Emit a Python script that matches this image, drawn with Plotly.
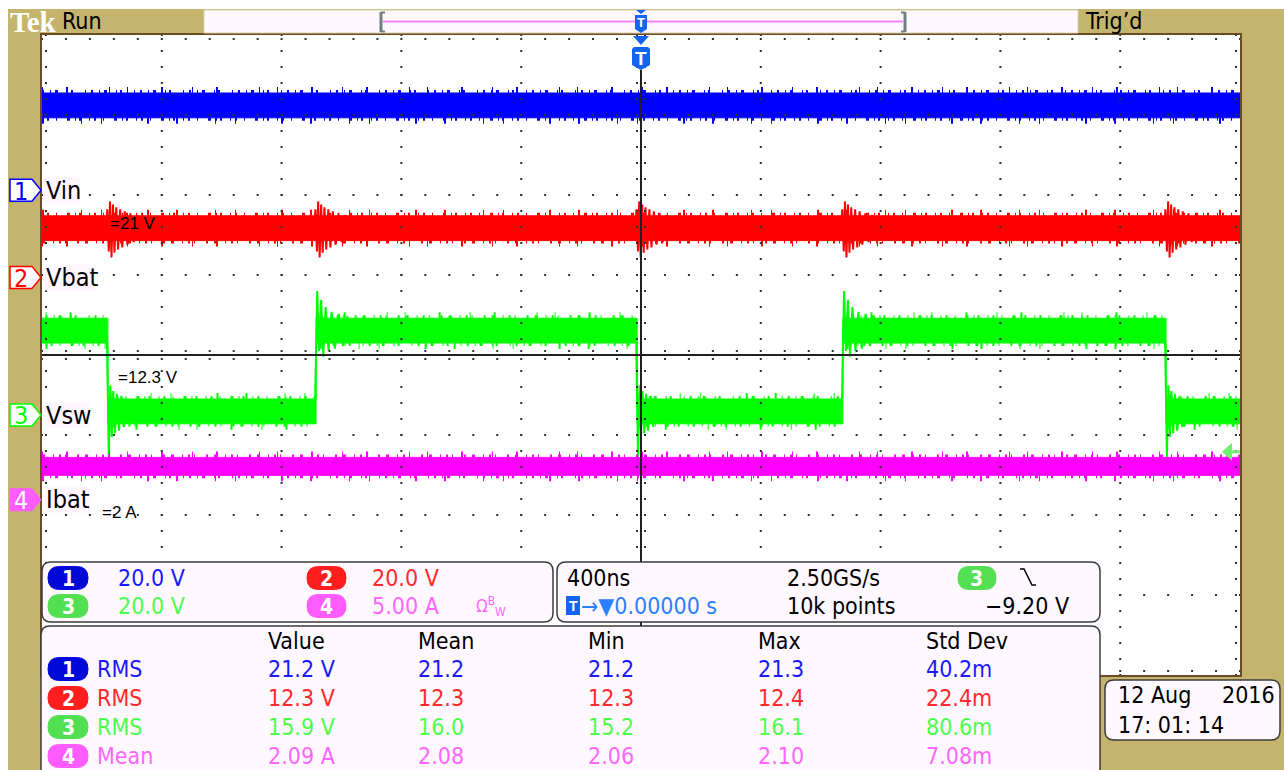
import numpy as np
import plotly.graph_objects as go

W, H = 1284, 770
GX0, GX1, GY0, GY1 = 42, 1240, 35, 675      # graticule box (px)
PX_PER_DIV_Y = (GY1 - GY0) / 8

NS_PER_DIV = 400
T_MIN, T_MAX = -5 * NS_PER_DIV, 5 * NS_PER_DIV
DIV_Y = 4

# ---- channel setup -------------------------------------------------------
ch_labels = ["Vin", "Vbat", "Vsw", "Ibat"]
ch_label_width = [36, 52, 46, 46]
ch_scale = [20.0, 20.0, 20.0, 5.0]            # units / div
ch_scale_text = ["20.0 V", "20.0 V", "20.0 V", "5.00 A"]
ch_position = [2.06, 0.97, -0.75, -1.81]      # ground marker, div
ch_trace_color = ["#0000FF", "#FF0000", "#00FF00", "#FF00FF"]
ch_text_color = ["#1A1AFF", "#FF2A2A", "#4CFF4C", "#FF66FF"]
ch_pill_color = ["#0008D8", "#FF1E1E", "#52E052", "#FF5CFF"]

# ---- waveform levels -----------------------------------------------------
vin_level = 21.2
vbat_level = 12.3
ibat_level = 2.09
vsw_high = 21.1
vsw_low = 0.9
noise_half = [3.1, 3.1, 3.1, 0.56]

# Vsw switching instants (ns); the record starts in the high state
vsw_edges = [-1780, -1085, -13, 674, 1753]
vsw_edge_kind = ["fall", "rise", "fall", "rise", "fall"]

# ringing after each edge (offset ns, volts)
fall_ring_dt = [-4, 3, 8, 13, 18, 24, 30, 37, 45, 54]
fall_ring_v = [22.0, -10.5, 7.4, -5.5, 6.0, -4.6, 5.3, -3.9, 4.8, -3.0]
rise_ring_dt = [-4, 4, 10, 17, 24, 32, 42, 52, 63, 76, 90, 105]
rise_ring_v = [0.5, 31.0, 16.0, 28.8, 14.6, 27.0, 16.0, 25.8, 16.6, 25.3, 17.2, 24.8]

# Vbat disturbance around each Vsw edge (offset ns, volts)
vbat_burst_dt = [-6, -2, 3, 7, 12, 17, 22, 28, 34, 41, 48, 56, 65, 75, 86, 98, 112]
vbat_burst_v = [12.3, 17.0, 6.5, 19.0, 5.0, 18.2, 6.2, 17.5, 7.0, 17.0, 7.5,
                16.5, 8.2, 16.0, 8.8, 15.6, 12.3]

trig_level_v = -9.20

# ---- readouts ------------------------------------------------------------
meas_headers = ["Value", "Mean", "Min", "Max", "Std Dev"]
meas_kind = ["RMS", "RMS", "RMS", "Mean"]
meas_value = ["21.2 V", "12.3 V", "15.9 V", "2.09 A"]
meas_mean = ["21.2", "12.3", "16.0", "2.08"]
meas_min = ["21.2", "12.3", "15.2", "2.06"]
meas_max = ["21.3", "12.4", "16.1", "2.10"]
meas_std = ["40.2m", "22.4m", "80.6m", "7.08m"]

timebase_text = "400ns"
sample_rate_text = "2.50GS/s"
record_text = "10k points"
trig_pos_text = "\u2192\u25BC0.00000 s"
trig_level_text = "\u22129.20 V"
date_text = ["12 Aug", "2016", "17: 01: 14"]
level_notes = [("=21 V", 108, 223), ("=12.3 V", 116, 377), ("=2 A", 100, 512)]

SCOPE = "Liberation Sans Narrow, DejaVu Sans Condensed, sans-serif"
ARIAL = "Liberation Sans, Arial, sans-serif"
KHAKI = "#C5B46E"
PANEL = "#FFF8FF"
EDGE = "#3C3C3C"

# irregular dash patterns that give the trace bands their grassy edges
FUZZ_DASH = ["2px,6px,1px,4px,3px,9px,1px,3px,2px,12px,1px,5px",
             "1px,4px,2px,7px,1px,10px,3px,5px,1px,3px,2px,8px",
             "3px,8px,1px,5px,2px,4px,1px,11px,2px,6px"]
SPIKE_DASH = ["1px,23px,2px,41px,1px,17px,1px,33px,2px,29px",
              "2px,37px,1px,19px,1px,45px,2px,27px"]


def X(px):
    return px / W


def Y(py):
    return 1 - py / H


def P(x, y):
    return f"{X(x):.6f},{Y(y):.6f}"


def to_div(ch, v):
    return ch_position[ch] + np.asarray(v, dtype=float) / ch_scale[ch]


def div_from_px(py):
    return DIV_Y - (py - GY0) / PX_PER_DIV_Y


shapes, annotations = [], []


def rrect(x0, y0, x1, y1, r, fill=PANEL, line=EDGE, lw=1.5):
    path = (f"M {P(x0 + r, y0)} L {P(x1 - r, y0)} Q {P(x1, y0)} {P(x1, y0 + r)} "
            f"L {P(x1, y1 - r)} Q {P(x1, y1)} {P(x1 - r, y1)} L {P(x0 + r, y1)} "
            f"Q {P(x0, y1)} {P(x0, y1 - r)} L {P(x0, y0 + r)} Q {P(x0, y0)} {P(x0 + r, y0)} Z")
    shapes.append(dict(type="path", xref="paper", yref="paper", path=path,
                       fillcolor=fill, line=dict(color=line, width=lw), layer="above"))


def rect(x0, y0, x1, y1, fill, line=None, lw=0, layer="above"):
    shapes.append(dict(type="rect", xref="paper", yref="paper",
                       x0=X(x0), x1=X(x1), y0=Y(y1), y1=Y(y0), fillcolor=fill,
                       line=dict(color=line or fill, width=lw), layer=layer))


def poly(pts, fill, line=None, lw=0, layer="above"):
    path = "M " + " L ".join(P(x, y) for x, y in pts) + " Z"
    shapes.append(dict(type="path", xref="paper", yref="paper", path=path,
                       fillcolor=fill, line=dict(color=line or fill, width=lw), layer=layer))


def seg(x0, y0, x1, y1, color, lw=1):
    shapes.append(dict(type="line", xref="paper", yref="paper",
                       x0=X(x0), y0=Y(y0), x1=X(x1), y1=Y(y1),
                       line=dict(color=color, width=lw), layer="above"))


def text(px, py, s, color="black", size=23, family=SCOPE, anchor="left", **kw):
    annotations.append(dict(x=X(px), y=Y(py), xref="paper", yref="paper", text=s,
                            showarrow=False, xanchor=anchor, yanchor="middle",
                            font=dict(family=family, size=size, color=color), **kw))


def pill(x0, x1, cy, ch, h=23):
    rrect(x0, cy - h / 2, x1, cy + h / 2, h / 2, fill=ch_pill_color[ch],
          line=ch_pill_color[ch], lw=1)
    text((x0 + x1) / 2, cy + 1, f"<b>{ch + 1}</b>", "white", 21, SCOPE, "center")


fig = go.Figure()


# ---- waveforms -----------------------------------------------------------
def fuzz(ch, t0, t1, v, side, k):
    """Grassy noise on one edge of a band: side=+1 top, -1 bottom."""
    base = float(to_div(ch, v))
    for dash, off_px, lw in ((FUZZ_DASH[k % 3], 1.5, 3), (SPIKE_DASH[k % 2], 3.0, 6)):
        y = base + side * off_px / PX_PER_DIV_Y
        fig.add_trace(go.Scatter(x=[t0, t1], y=[y, y], mode="lines",
                                 line=dict(color=ch_trace_color[ch], width=lw, dash=dash),
                                 hoverinfo="skip", showlegend=False))


def flat_band(ch, level, k):
    h = noise_half[ch]
    xs = [T_MIN, T_MAX, T_MAX, T_MIN]
    ys = to_div(ch, [level + h, level + h, level - h, level - h])
    fig.add_trace(go.Scatter(x=xs, y=ys, fill="toself", mode="lines",
                             fillcolor=ch_trace_color[ch],
                             line=dict(color=ch_trace_color[ch], width=1),
                             hoverinfo="skip", showlegend=False))
    fuzz(ch, T_MIN, T_MAX, level + h, +1, k)
    fuzz(ch, T_MIN, T_MAX, level - h, -1, k + 1)


flat_band(0, vin_level, 0)
flat_band(1, vbat_level, 1)

# Vbat disturbances
bx, by = [], []
for e in vsw_edges:
    bx += [e + d for d in vbat_burst_dt] + [None]
    by += list(to_div(1, vbat_burst_v)) + [None]
fig.add_trace(go.Scatter(x=bx, y=by, mode="lines", line=dict(color=ch_trace_color[1], width=2),
                         hoverinfo="skip", showlegend=False))

# Vsw band
bounds = [T_MIN] + vsw_edges + [T_MAX]
ux, uy, lx, ly = [], [], [], []
for i in range(len(bounds) - 1):
    lvl = vsw_high if i % 2 == 0 else vsw_low
    ux += [bounds[i], bounds[i + 1]]
    uy += [lvl + noise_half[2]] * 2
    lx += [bounds[i], bounds[i + 1]]
    ly += [lvl - noise_half[2]] * 2
fig.add_trace(go.Scatter(x=ux + lx[::-1], y=list(to_div(2, uy + ly[::-1])), fill="toself",
                         mode="lines", fillcolor=ch_trace_color[2],
                         line=dict(color=ch_trace_color[2], width=1),
                         hoverinfo="skip", showlegend=False))
for i in range(len(bounds) - 1):
    lvl = vsw_high if i % 2 == 0 else vsw_low
    fuzz(2, bounds[i] + 12, bounds[i + 1] - 2, lvl + noise_half[2], +1, i)
    fuzz(2, bounds[i] + 12, bounds[i + 1] - 2, lvl - noise_half[2], -1, i + 1)
rx, ry = [], []
for e, kind in zip(vsw_edges, vsw_edge_kind):
    dts, vs = (fall_ring_dt, fall_ring_v) if kind == "fall" else (rise_ring_dt, rise_ring_v)
    rx += [e + d for d in dts] + [None]
    ry += list(to_div(2, vs)) + [None]
fig.add_trace(go.Scatter(x=rx, y=ry, mode="lines", line=dict(color=ch_trace_color[2], width=2),
                         hoverinfo="skip", showlegend=False))

flat_band(3, ibat_level, 2)

# ---- graticule -----------------------------------------------------------
step_x = NS_PER_DIV / 5
xs_minor = np.arange(T_MIN, T_MAX + 1, step_x)
ys_minor = np.arange(-DIV_Y, DIV_Y + 1e-9, 0.2)
dx = 4 * (T_MAX - T_MIN) / (GX1 - GX0)
dy = 4 / PX_PER_DIV_Y
gx, gy = [], []
for k in range(1, 10):
    if k == 5:
        continue
    gx += [T_MIN + k * NS_PER_DIV] * len(ys_minor)
    gy += list(ys_minor)
for k in range(-3, 4):
    if k == 0:
        continue
    gx += list(xs_minor)
    gy += [k] * len(xs_minor)
# ticks along the centre cross and the frame
for off in (-dy, dy):
    gx += list(xs_minor)
    gy += [off] * len(xs_minor)
for off in (-dx, dx):
    gx += [off] * len(ys_minor)
    gy += list(ys_minor)
gx += list(xs_minor) * 2
gy += [DIV_Y - dy] * len(xs_minor) + [-DIV_Y + dy] * len(xs_minor)
gx += [T_MIN + dx] * len(ys_minor) + [T_MAX - dx] * len(ys_minor)
gy += list(ys_minor) * 2
fig.add_trace(go.Scatter(x=gx, y=gy, mode="markers",
                         marker=dict(symbol="square", size=2, color="#303030"),
                         hoverinfo="skip", showlegend=False))
fig.add_trace(go.Scatter(x=[T_MIN, T_MAX, None, 0, 0], y=[0, 0, None, -DIV_Y, div_from_px(70)],
                         mode="lines", line=dict(color="#202020", width=2),
                         hoverinfo="skip", showlegend=False))

# ---- frame, header ------------------------------------------------------
rect(0, 0, W, 9, "white", layer="below")
rect(0, 0, 8, H, "white", layer="below")

rect(204, 10, 1078, 33, PANEL, "#D8CFA8", 1)
seg(383, 21.5, 903, 21.5, "#FF80FF", 2)
for bx0, sgn in ((381, 1), (905, -1)):
    seg(bx0, 12, bx0, 32, "#708080", 3)
    seg(bx0, 12.5, bx0 + 4 * sgn, 12.5, "#708080", 2)
    seg(bx0, 31.5, bx0 + 4 * sgn, 31.5, "#708080", 2)

text(8, 22, "<b>Tek</b>", "white", 29, "Liberation Serif, serif")
text(60, 21, "Run", "black", 23)
text(1083, 21, "Trig\u2019d", "black", 23)

TBLUE = "#1464F4"
# trigger position markers
poly([(636, 10), (646, 10), (641, 14)], TBLUE)
poly([(635, 15), (647, 15), (647, 29), (641, 33), (635, 29)], TBLUE)
text(641, 23, "<b>T</b>", "white", 13, ARIAL, "center")
poly([(633, 36), (649, 36), (641, 45)], TBLUE)
poly([(632, 49), (634, 47), (648, 47), (650, 49), (650, 65), (641, 70), (632, 65)], TBLUE)
text(641, 58, "<b>T</b>", "white", 19, ARIAL, "center")

# trigger level arrow (right edge)
ty = GY0 + (DIV_Y - float(to_div(2, trig_level_v))) * PX_PER_DIV_Y
poly([(1222, ty), (1232, ty - 9), (1232, ty + 9)], "#70F070")
seg(1231, ty, 1240, ty, "#70F070", 3)

# channel ground markers
marker_y = [GY0 + (DIV_Y - p) * PX_PER_DIV_Y for p in ch_position]
for ch, my in enumerate(marker_y):
    pts = [(10, my - 11), (32, my - 11), (41, my), (32, my + 11), (10, my + 11)]
    if ch == 3:
        poly(pts, ch_pill_color[3], ch_pill_color[3], 1)
        text(21, my + 1, "4", "white", 25, anchor="center")
    else:
        poly(pts, "white", ch_trace_color[ch], 1.5)
        text(21, my + 1, str(ch + 1), ch_trace_color[ch], 25, anchor="center")
    rect(44, my - 13, 44 + ch_label_width[ch], my + 13, "#FFF6FF")
    text(44, my, ch_labels[ch], "black", 25)

for s, px, py in level_notes:
    text(px, py, s, "black", 17, ARIAL)

# ---- readout panels ------------------------------------------------------
rrect(42, 562, 553, 622, 9)
rrect(557, 562, 1100, 622, 9)
rrect(41, 626, 1100, 782, 9)
rrect(1105, 680, 1280, 740, 9)

pill(48, 88, 578, 0)
text(116, 578, ch_scale_text[0], ch_text_color[0])
pill(307, 346, 578, 1)
text(370, 578, ch_scale_text[1], ch_text_color[1])
pill(48, 88, 606, 2)
text(116, 606, ch_scale_text[2], ch_text_color[2])
pill(307, 346, 606, 3)
text(370, 606, ch_scale_text[3], ch_text_color[3])
text(474, 606, "\u03A9<sup>B</sup><sub>W</sub>", ch_text_color[3], 17)

text(565, 578, timebase_text)
text(785, 578, sample_rate_text)
pill(958, 996, 578, 2)
shapes.append(dict(type="path", xref="paper", yref="paper",
                   path=f"M {P(1020, 569)} L {P(1024, 569)} L {P(1032, 585)} L {P(1036, 585)}",
                   line=dict(color="black", width=1.5), layer="above"))
rect(566, 596, 580, 615, TBLUE)
text(573, 606, "<b>T</b>", "white", 14, ARIAL, "center")
text(579, 606, trig_pos_text, "#2A80FF")
text(785, 606, record_text)
text(983, 606, trig_level_text)

col_x = [266, 416, 586, 756, 924]
for hx, htxt in zip(col_x, meas_headers):
    text(hx, 641, htxt)
row_y = [669, 698, 727, 756]
for ch, ry_ in enumerate(row_y):
    pill(48, 88, ry_, ch)
    text(95, ry_, meas_kind[ch], ch_text_color[ch])
    vals = [meas_value[ch], meas_mean[ch], meas_min[ch], meas_max[ch], meas_std[ch]]
    for hx, v in zip(col_x, vals):
        text(hx, ry_, v, ch_text_color[ch])

text(1116, 695, date_text[0])
text(1277, 695, date_text[1], anchor="right")
text(1116, 725, date_text[2])

axis_common = dict(showgrid=False, zeroline=False, showticklabels=False, ticks="",
                   showline=True, mirror=True, linecolor="#6B4A28", linewidth=2,
                   fixedrange=True)
fig.update_layout(
    width=W, height=H, autosize=False,
    margin=dict(l=0, r=0, t=0, b=0),
    paper_bgcolor=KHAKI, plot_bgcolor="white",
    xaxis=dict(domain=[GX0 / W, GX1 / W], range=[T_MIN, T_MAX], **axis_common),
    yaxis=dict(domain=[1 - GY1 / H, 1 - GY0 / H], range=[-DIV_Y, DIV_Y], **axis_common),
    shapes=shapes, annotations=annotations, showlegend=False,
)

fig.write_html("out.html", config={"displayModeBar": False})
